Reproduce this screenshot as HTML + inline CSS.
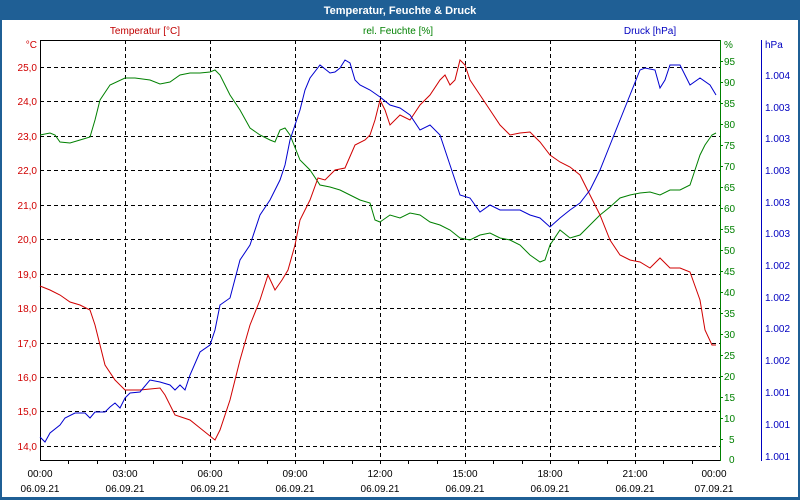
<!DOCTYPE html>
<html><head><meta charset="utf-8"><style>
html,body{margin:0;padding:0;background:#fff}
svg{display:block;font-family:"Liberation Sans",sans-serif}
</style></head><body>
<svg width="800" height="500" viewBox="0 0 800 500">
<rect x="0" y="0" width="800" height="500" fill="#1f5f95"/>
<rect x="2" y="20" width="796" height="477" fill="#fff"/>
<text x="400" y="14" fill="#fff" font-size="11" font-weight="bold" text-anchor="middle">Temperatur, Feuchte &amp; Druck</text>
<text x="145" y="34" fill="#c00000" font-size="10" text-anchor="middle">Temperatur [°C]</text>
<text x="398" y="34" fill="#008000" font-size="10" text-anchor="middle">rel. Feuchte [%]</text>
<text x="650" y="34" fill="#0000c0" font-size="10" text-anchor="middle">Druck [hPa]</text>
<g stroke="#000" stroke-width="1" stroke-dasharray="4,3" fill="none">
<path d="M40 67.5H720M40 101.5H720M40 136.5H720M40 170.5H720M40 205.5H720M40 239.5H720M40 274.5H720M40 308.5H720M40 343.5H720M40 377.5H720M40 411.5H720M40 446.5H720"/>
<path d="M125.5 40V460M210.5 40V460M295.5 40V460M380.5 40V460M465.5 40V460M550.5 40V460M635.5 40V460"/>
</g>
<path d="M40.5 40.5H720.5" stroke="#000"/>
<path d="M40.5 40V461" stroke="#000"/>
<path d="M40 460.5H720" stroke="#000"/>
<path d="M720.5 40V461" stroke="#008000"/>
<path d="M761.5 40V461" stroke="#0000c0"/>
<g stroke="#000"><path d="M68.5 460v4M97.5 460v4M125.5 460v4M153.5 460v4M182.5 460v4M210.5 460v4M238.5 460v4M267.5 460v4M295.5 460v4M323.5 460v4M352.5 460v4M380.5 460v4M408.5 460v4M437.5 460v4M465.5 460v4M493.5 460v4M522.5 460v4M550.5 460v4M578.5 460v4M607.5 460v4M635.5 460v4M663.5 460v4M692.5 460v4"/></g>
<g fill="#d00000" font-size="10" text-anchor="end">
<text x="37" y="48">°C</text>
<text x="37" y="71">25,0</text><text x="37" y="105">24,0</text><text x="37" y="140">23,0</text><text x="37" y="174">22,0</text><text x="37" y="209">21,0</text><text x="37" y="243">20,0</text><text x="37" y="278">19,0</text><text x="37" y="312">18,0</text><text x="37" y="347">17,0</text><text x="37" y="381">16,0</text><text x="37" y="415">15,0</text><text x="37" y="450">14,0</text>
</g>
<g fill="#008000" font-size="10">
<text x="724" y="48">%</text>
<text x="724" y="65">95</text><text x="724" y="86">90</text><text x="724" y="107">85</text><text x="724" y="128">80</text><text x="724" y="149">75</text><text x="724" y="170">70</text><text x="724" y="191">65</text><text x="724" y="212">60</text><text x="724" y="233">55</text><text x="724" y="254">50</text><text x="724" y="275">45</text><text x="724" y="296">40</text><text x="724" y="317">35</text><text x="724" y="338">30</text><text x="724" y="359">25</text><text x="724" y="380">20</text><text x="724" y="401">15</text><text x="724" y="422">10</text><text x="729" y="443">5</text><text x="729" y="463">0</text>
</g>
<g stroke="#008000"><path d="M720 61.5h3M720 82.5h3M720 103.5h3M720 124.5h3M720 145.5h3M720 166.5h3M720 187.5h3M720 208.5h3M720 229.5h3M720 250.5h3M720 271.5h3M720 292.5h3M720 313.5h3M720 334.5h3M720 355.5h3M720 376.5h3M720 397.5h3M720 418.5h3M720 439.5h3"/></g>
<g fill="#0000c0" font-size="10">
<text x="765" y="48">hPa</text>
<text x="765" y="79">1.004</text><text x="765" y="111">1.003</text><text x="765" y="142">1.003</text><text x="765" y="174">1.003</text><text x="765" y="206">1.003</text><text x="765" y="237">1.003</text><text x="765" y="269">1.002</text><text x="765" y="301">1.002</text><text x="765" y="332">1.002</text><text x="765" y="364">1.002</text><text x="765" y="396">1.001</text><text x="765" y="428">1.001</text><text x="765" y="460">1.001</text>
</g>
<g font-size="10" fill="#000" text-anchor="middle">
<text x="40" y="477">00:00</text><text x="125" y="477">03:00</text><text x="210" y="477">06:00</text><text x="295" y="477">09:00</text><text x="380" y="477">12:00</text><text x="465" y="477">15:00</text><text x="550" y="477">18:00</text><text x="635" y="477">21:00</text><text x="714" y="477">00:00</text>
<text x="40" y="492">06.09.21</text><text x="125" y="492">06.09.21</text><text x="210" y="492">06.09.21</text><text x="295" y="492">06.09.21</text><text x="380" y="492">06.09.21</text><text x="465" y="492">06.09.21</text><text x="550" y="492">06.09.21</text><text x="635" y="492">06.09.21</text><text x="714" y="492">07.09.21</text>
</g>
<polyline fill="none" stroke="#008000" stroke-width="1" points="40,135 50,133 55,135 60,142 70,143 80,140 90,137 95,120 100,100 110,85 125,78 135,78 150,80 160,84 170,82 180,75 190,73 200,73 210,72 215,70 220,75 230,95 240,110 250,128 260,135 270,140 275,142 280,130 285,128 290,135 300,160 310,170 320,185 330,187 340,190 350,195 360,200 370,203 375,220 380,222 390,215 400,218 410,213 420,215 430,222 440,225 450,230 460,238 470,240 480,235 490,233 500,238 510,240 520,245 530,255 540,262 545,260 550,245 560,230 570,238 580,235 590,225 600,215 610,207 620,198 630,195 640,193 650,192 660,195 670,190 680,190 690,185 695,170 700,155 705,145 712,135 716,133"/>
<polyline fill="none" stroke="#d00000" stroke-width="1" points="40,286 50,290 60,295 70,302 80,305 90,310 95,325 100,345 105,365 115,380 125,390 140,390 160,388 165,395 175,415 190,420 200,428 210,436 215,440 220,430 230,400 240,360 250,325 260,300 268,275 275,290 282,280 288,270 295,245 300,220 310,200 318,178 325,180 335,170 345,168 355,145 365,140 370,135 375,120 380,100 385,110 390,125 400,115 410,120 420,105 430,95 440,80 445,75 450,85 455,80 460,60 465,65 470,80 480,95 490,110 500,125 510,135 520,133 530,132 540,142 550,155 560,162 570,167 580,175 590,195 600,215 610,240 620,255 630,260 640,262 650,268 660,258 670,268 680,268 690,272 700,300 705,330 712,345 716,345"/>
<polyline fill="none" stroke="#0000d0" stroke-width="1" points="40,437 45,442 50,433 60,425 65,418 75,413 85,413 90,418 95,412 105,412 110,407 115,403 120,408 125,398 130,393 140,392 150,380 160,382 170,385 175,390 180,385 185,390 190,375 200,352 210,345 215,330 220,305 230,298 240,260 250,245 260,215 270,200 280,180 285,165 290,140 300,110 305,90 310,78 320,65 330,73 335,72 340,68 345,60 350,63 355,80 360,85 370,90 380,97 390,105 400,108 410,115 420,130 430,125 440,135 450,165 460,195 470,198 480,212 490,205 500,210 510,210 520,210 530,215 540,218 550,227 560,218 570,210 580,203 590,190 600,170 610,145 620,120 630,95 640,70 645,68 655,70 660,88 665,80 670,65 680,65 690,85 700,78 710,85 716,95"/>
</svg>
</body></html>
